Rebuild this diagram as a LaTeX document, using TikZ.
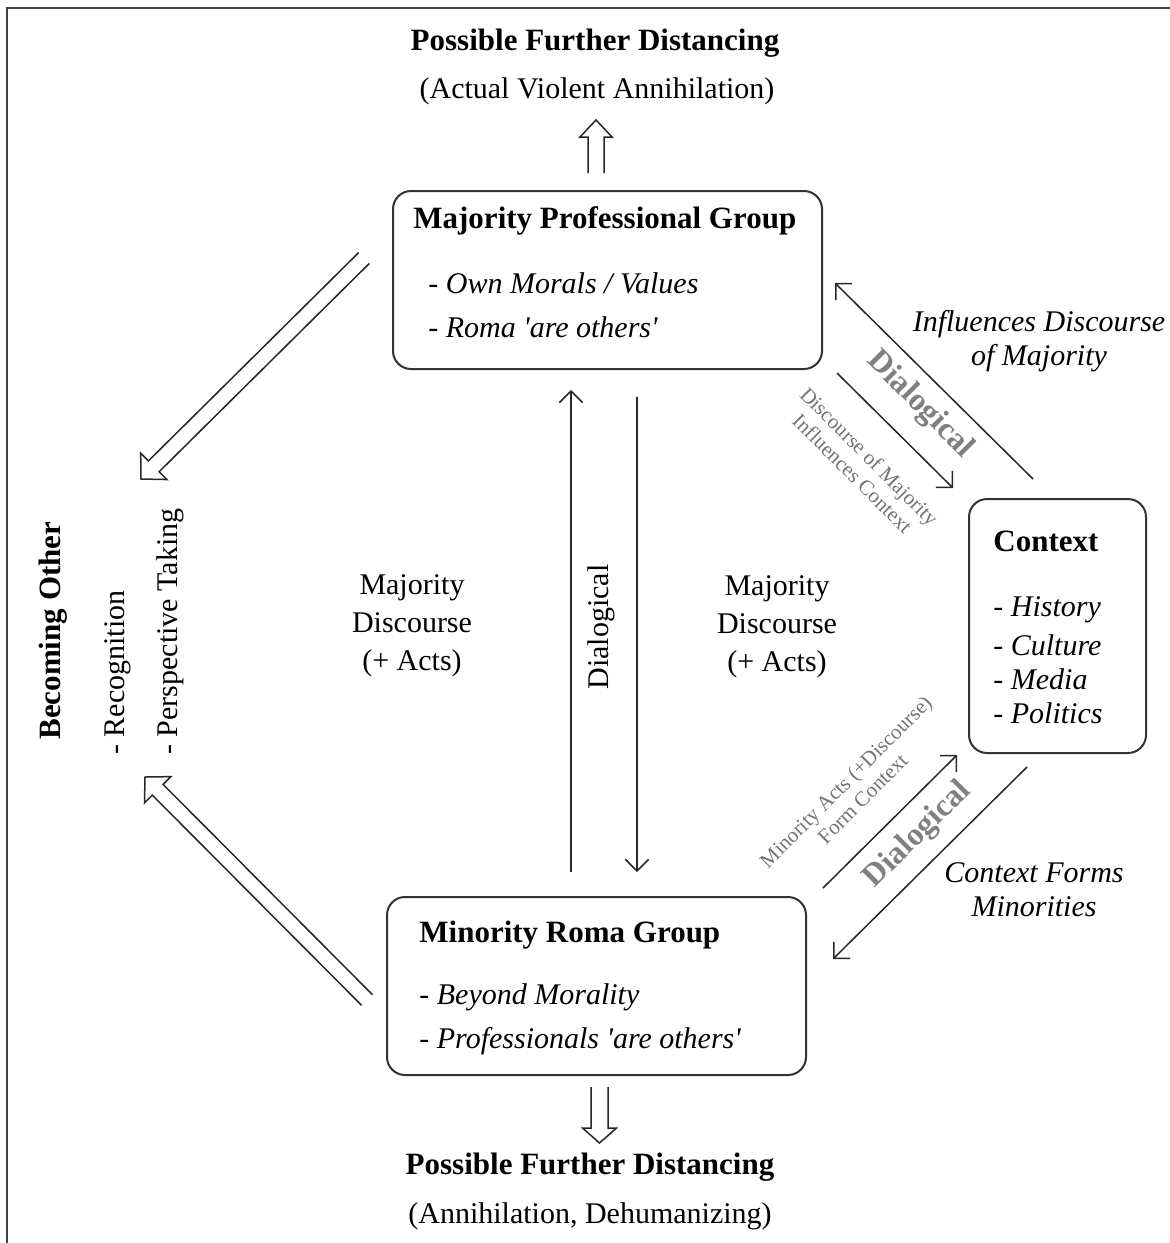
\documentclass[tikz,border=0pt]{standalone}
\usepackage{fontspec}
\setmainfont{Liberation Serif}
\usetikzlibrary{arrows.meta,calc}
\tikzset{
  box/.style={draw=black!80, line width=1pt, rounded corners=9pt, inner sep=0pt},
  lbl/.style={inner sep=0pt, font=\fontsize{15}{19}\selectfont},
  ilbl/.style={inner sep=0pt, align=center, font=\fontsize{15}{17}\selectfont\itshape},
  ttl/.style={inner sep=0pt, font=\fontsize{15.5}{19}\selectfont\bfseries},
  thinarrow/.style={line width=0.75pt, black!85, -{Straight Barb[length=5.8pt,width=11.7pt,line width=0.75pt]}},
  hollow/.style={line width=0.75pt, black!85, line join=miter},
  grayb/.style={inner sep=0pt, text=black!50, font=\fontsize{16}{19}\selectfont\bfseries},
  grays/.style={inner sep=0pt, text=black!55, align=center, font=\fontsize{10.5}{12}\selectfont},
}
\newcommand{\hollowarrow}[6]{% #1 name, #2 tail, #3 tip, #4 shaft half width, #5 head half width, #6 head length
  \coordinate (#1-hb) at ($(#3)!#6!(#2)$);
  \draw[hollow] ($(#2)!#4!90:(#3)$) -- ($(#1-hb)!#4!-90:(#2)$) -- ($(#1-hb)!#5!-90:(#2)$)
    -- (#3) -- ($(#1-hb)!#5!90:(#2)$) -- ($(#1-hb)!#4!90:(#2)$) -- ($(#2)!#4!-90:(#3)$);
}
\newcommand{\sq}{\textquotesingle}
\begin{document}
\begin{tikzpicture}[x=0.5pt,y=-0.5pt]
\useasboundingbox (0,0) rectangle (1170,1243);
\draw[line width=1.3pt, black!75] (7,1243) -- (7,8) -- (1170,8);

% boxes
\node[box, minimum width=214.5pt, minimum height=89pt] (mpg) at (607.5,280) {};
\node[box, minimum width=88.5pt, minimum height=127pt] (ctx) at (1057.5,626) {};
\node[box, minimum width=209.5pt, minimum height=89pt] (mrg) at (596.5,986) {};

% box contents
\node[ttl, anchor=west] (mpgt) at (413,221) {Majority Professional Group};
\node[lbl, anchor=west] (mpg1) at (428,283) {- \itshape Own Morals / Values};
\node[lbl, anchor=west] (mpg2) at (428,327) {- \itshape Roma \sq are others\sq};

\node[ttl, anchor=west] (ctxt) at (993,541) {Context};
\node[lbl, anchor=west] (ctx1) at (993,610) {- \itshape History};
\node[lbl, anchor=west] (ctx2) at (993,645) {- \itshape Culture};
\node[lbl, anchor=west] (ctx3) at (993,679) {- \itshape Media};
\node[lbl, anchor=west] (ctx4) at (993,713) {- \itshape Politics};

\node[ttl, anchor=west] (mrgt) at (419,935) {Minority Roma Group};
\node[lbl, anchor=west] (mrg1) at (419,997) {- \itshape Beyond Morality};
\node[lbl, anchor=west] (mrg2) at (419,1041) {- \itshape Professionals \sq are others\sq};

% headings
\node[ttl] (toph) at (595,43) {Possible Further Distancing};
\node[lbl] (tops) at (597,91) {(Actual Violent Annihilation)};
\node[ttl] (both) at (590,1167) {Possible Further Distancing};
\node[lbl] (bots) at (590,1216) {(Annihilation, Dehumanizing)};

% hollow arrows
\coordinate (ut) at (596,173); \coordinate (uh) at (596,120);
\hollowarrow{u}{ut}{uh}{4pt}{8pt}{8.5pt}
\coordinate (dt) at (599.5,1087); \coordinate (dh) at (599.5,1143);
\hollowarrow{d}{dt}{dh}{4.25pt}{8.5pt}{7.5pt}
\coordinate (lut) at (364,258); \coordinate (luh) at (141,479);
\hollowarrow{lu}{lut}{luh}{3.8pt}{9.3pt}{9pt}
\coordinate (ldt) at (367,1000); \coordinate (ldh) at (145,777);
\hollowarrow{ld}{ldt}{ldh}{3.8pt}{9.3pt}{9pt}

% vertical thin arrows
\coordinate (v1s) at (571,872); \coordinate (v1e) at (571,390);
\coordinate (v2s) at (637,397); \coordinate (v2e) at (637,872);
\draw[thinarrow] (v1s) -- (v1e);
\draw[thinarrow] (v2s) -- (v2e);
\node[lbl, rotate=90] (dlg) at (601,627) {Dialogical};
\node[lbl, align=center] (mdl) at (412,626) {Majority\\Discourse\\(+ Acts)};
\node[lbl, align=center] (mdr) at (777,627) {Majority\\Discourse\\(+ Acts)};

% upper right arrows
\coordinate (a1s) at (1033,479); \coordinate (a1e) at (835,283);
\coordinate (a2s) at (837,373); \coordinate (a2e) at (953,488);
\draw[thinarrow] (a1s) -- (a1e);
\draw[thinarrow] (a2s) -- (a2e);
\node[grayb, rotate=-45] (dg1) at (920,405) {Dialogical};
\node[grays, rotate=-45] (gs1) at (861,465) {Discourse of Majority\\Influences Context};
\node[ilbl] (inf) at (1039,341) {Influences Discourse\\of Majority};

% lower right arrows
\coordinate (a3s) at (823,888); \coordinate (a3e) at (957,755);
\coordinate (a4s) at (1027,767); \coordinate (a4e) at (833,959);
\draw[thinarrow] (a3s) -- (a3e);
\draw[thinarrow] (a4s) -- (a4e);
\node[grayb, rotate=45] (dg2) at (918,835) {Dialogical};
\node[grays, rotate=45] (gs2) at (854,790) {Minority Acts (+Discourse)\\Form Context};
\node[ilbl] (cfm) at (1034,890) {Context Forms\\Minorities};

% left rotated texts
\node[ttl, rotate=90, anchor=west] (bo) at (53,740) {Becoming Other};
\node[lbl, rotate=90, anchor=west] (rec) at (118,755) {- Recognition};
\node[lbl, rotate=90, anchor=west] (per) at (170,755) {- Perspective Taking};
\end{tikzpicture}
\end{document}
